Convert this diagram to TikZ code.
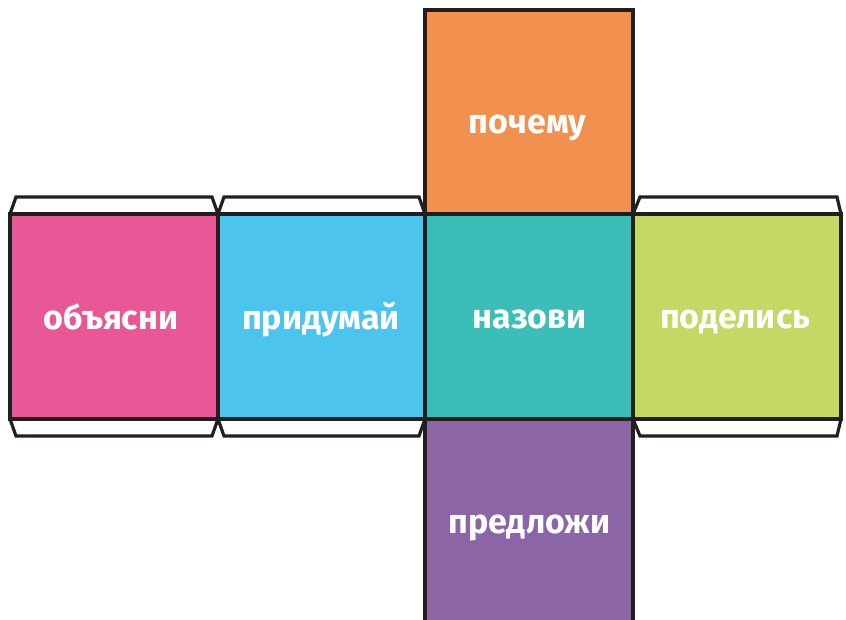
\documentclass[tikz,border=0pt]{standalone}
\usepackage{fontspec}
\newfontfamily\labfont{Fira Sans}
\definecolor{pinkf}{HTML}{E85896}
\definecolor{bluef}{HTML}{4DC4EE}
\definecolor{tealf}{HTML}{3BBEB7}
\definecolor{greenf}{HTML}{C4D965}
\definecolor{orangef}{HTML}{F29050}
\definecolor{purplef}{HTML}{8B65A5}
\definecolor{edgec}{HTML}{231F20}
\begin{document}
\begin{tikzpicture}[x=1pt,y=-1pt,
  face/.style={draw=edgec,line width=3.2pt,inner sep=0pt,minimum width=#1,minimum height=205pt},
  tab/.style={draw=edgec,line width=3.2pt,fill=white,line join=miter},
  lab/.style={text=white,font=\labfont\bfseries\fontsize{34}{37}\selectfont,inner sep=0pt,anchor=base}]
\useasboundingbox (0,0) rectangle (846,619);
% tabs
\draw[tab] (10,214) -- (16,197) -- (212,197) -- (218,214);
\draw[tab] (218,214) -- (224,197) -- (419,197) -- (425,214);
\draw[tab] (633,214) -- (640,197) -- (837,197) -- (841,214);
\draw[tab] (10,419) -- (16,436) -- (212,436) -- (218,419);
\draw[tab] (218,419) -- (224,436) -- (419,436) -- (425,419);
\draw[tab] (633,419) -- (640,436) -- (837,436) -- (841,419);
% faces
\node[face=208pt,fill=pinkf] (f1) at (114,316.5) {};
\node[face=207pt,fill=bluef] (f2) at (321.5,316.5) {};
\node[face=208pt,fill=tealf] (f3) at (529,316.5) {};
\node[face=208pt,fill=greenf] (f4) at (737,316.5) {};
\node[face=208pt,fill=orangef,minimum height=204pt] (f0) at (529,112) {};
\node[face=208pt,fill=purplef,minimum height=210pt] (f5) at (529,524) {};
% labels
\node[lab] (l1) at (111,329) {объясни};
\node[lab] (l2) at (321,329) {придумай};
\node[lab] (l3) at (529.5,328) {назови};
\node[lab] (l4) at (735,328) {поделись};
\node[lab] (l0) at (527.5,133) {почему};
\node[lab] (l5) at (529.5,533) {предложи};
\end{tikzpicture}
\end{document}
